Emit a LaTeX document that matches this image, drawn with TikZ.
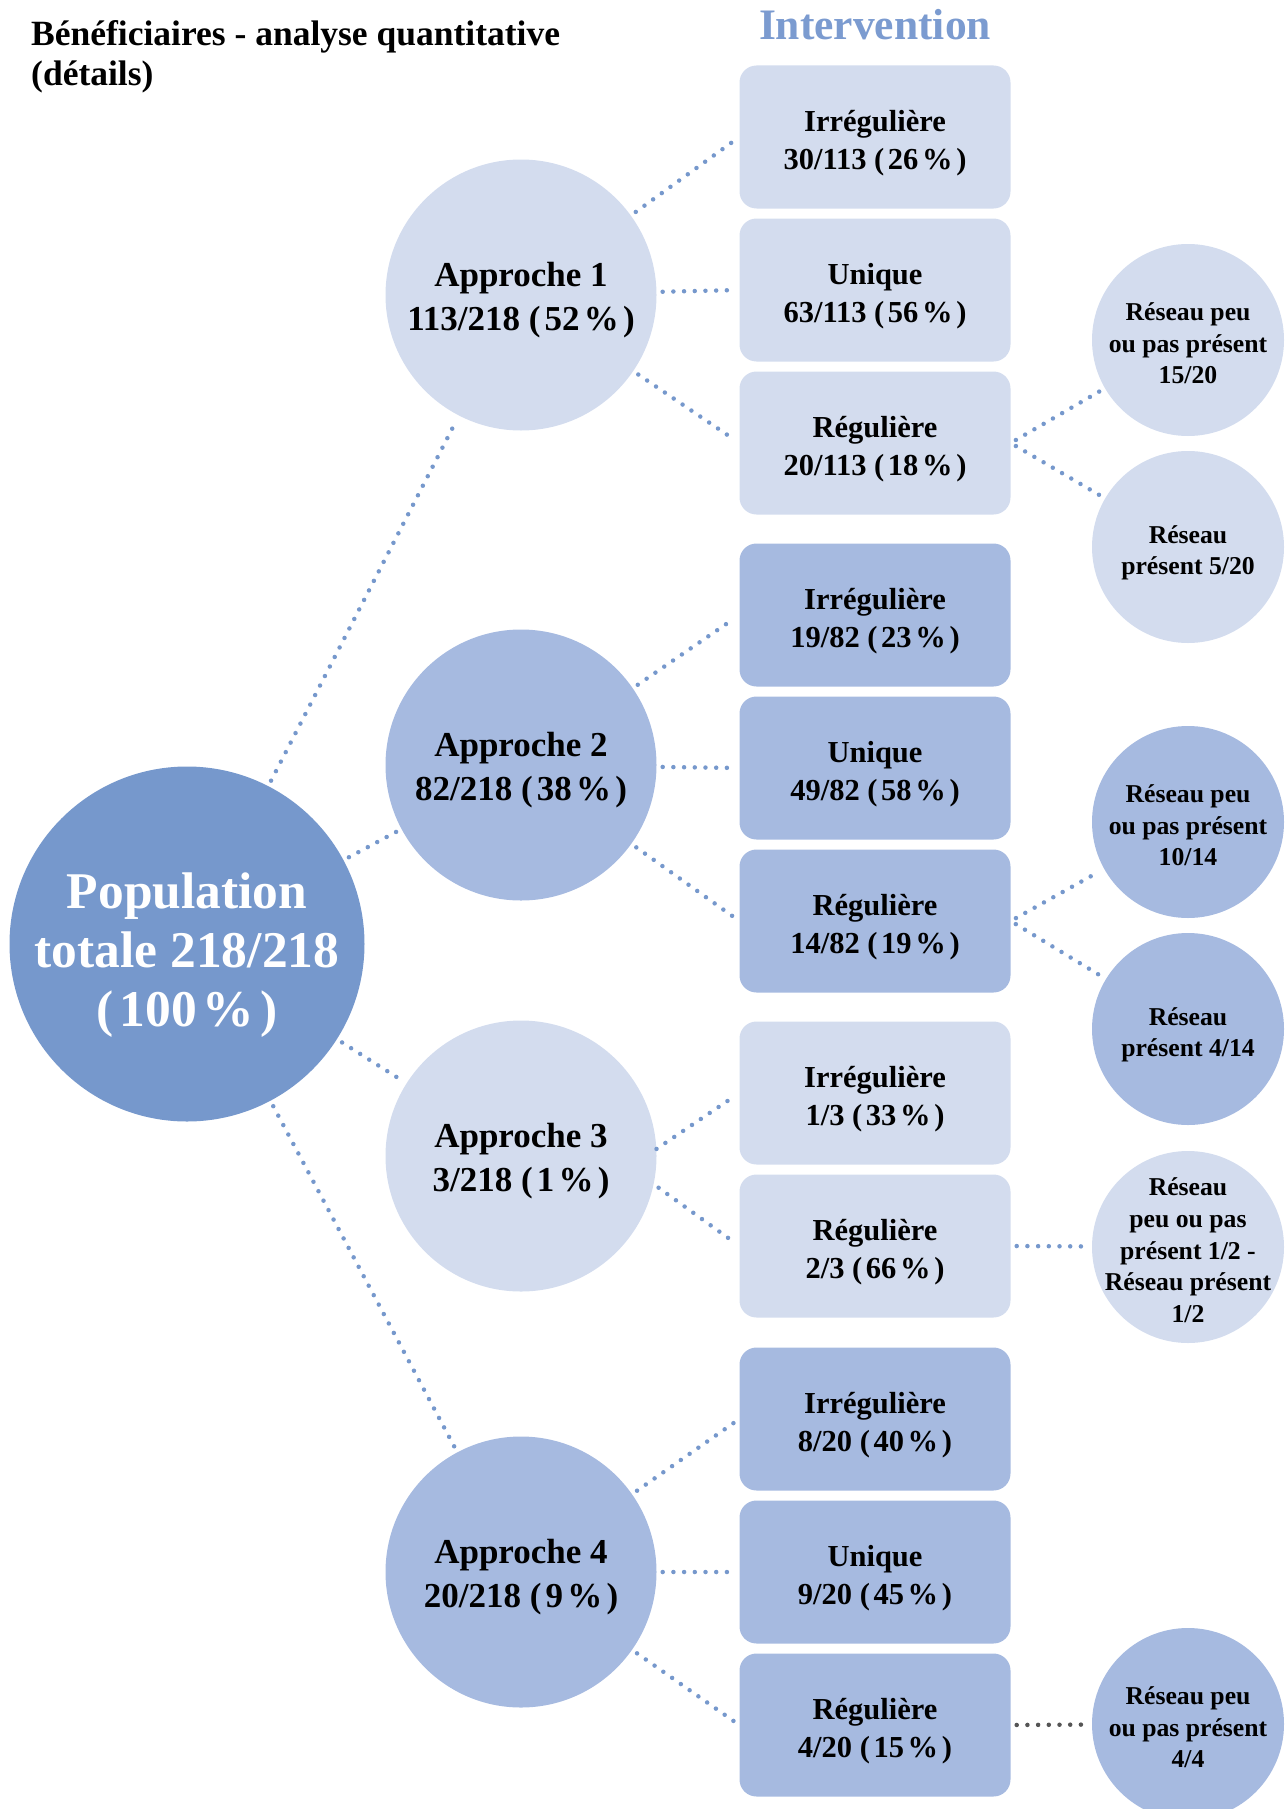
\documentclass[tikz,border=0pt]{standalone}
\usepackage{fontspec}
\setmainfont{Liberation Serif}
\usepackage{xcolor}
\definecolor{popBlue}{HTML}{7698CC}
\definecolor{lightBlue}{HTML}{D3DCEE}
\definecolor{midBlue}{HTML}{A6BAE0}
\definecolor{titleBlue}{HTML}{7B9BD0}
\definecolor{dotGray}{HTML}{555555}
\newcommand{\pct}[1]{(\kern0.12em#1\kern0.12em\%\kern0.12em)}
\newcommand{\lift}[1]{\rule{0pt}{#1}}
\tikzset{
  approach/.style={circle, inner sep=0pt, minimum size=271pt, align=center,
    text depth=0pt, font=\bfseries\fontsize{35}{44}\selectfont},
  interBox/.style={rectangle, rounded corners=17pt, minimum width=271pt,
    minimum height=143pt, align=center, text depth=0pt,
    font=\bfseries\fontsize{30.5}{38}\selectfont},
  network/.style={circle, inner sep=0pt, minimum size=192pt, align=center,
    text depth=0pt, font=\bfseries\fontsize{25.7}{31.7}\selectfont},
  dotLink/.style={draw=popBlue, line width=4.5pt, line cap=round,
    dash pattern=on 0pt off 10.7pt, shorten <=6pt, shorten >=6pt},
}

\begin{document}
\begin{tikzpicture}[x=1pt, y=-1pt]
                \useasboundingbox (0,0) rectangle (1285,1809);
                \def\apX{521}
                \def\boxX{875}
                \def\netX{1188}
                \def\apTop{27pt}
                \def\boxTop{26pt}
                \def\netTop{24pt}
                % titles
                \node[anchor=north west, inner sep=0pt, align=left,
                    font=\bfseries\fontsize{35.5}{40}\selectfont] (title) at (31,20)
                    {Bénéficiaires - analyse quantitative\\(détails)};
                \node[text=titleBlue, font=\bfseries\fontsize{43.5}{48}\selectfont]
                    (inter) at (\boxX,25) {Intervention};
                % population
                \node[circle, fill=popBlue, text=white, inner sep=0pt, minimum size=355pt,
                    align=center, text depth=0pt, font=\bfseries\fontsize{51.5}{59}\selectfont]
                    (pop) at (187,944) {\lift{46.5pt}Population\\totale 218/218\\\pct{100}};
                % approches
                \node[approach, fill=lightBlue] (a1) at (\apX,295)
                    {\lift\apTop Approche 1\\113/218 \pct{52}};
                \node[approach, fill=midBlue] (a2) at (\apX,765)
                    {\lift\apTop Approche 2\\82/218 \pct{38}};
                \node[approach, fill=lightBlue] (a3) at (\apX,1156)
                    {\lift\apTop Approche 3\\3/218 \pct{1}};
                \node[approach, fill=midBlue] (a4) at (\apX,1572)
                    {\lift\apTop Approche 4\\20/218 \pct{9}};
                % interventions
                \node[interBox, fill=lightBlue] (a1irr) at (\boxX,137)
                    {\lift\boxTop Irrégulière\\30/113 \pct{26}};
                \node[interBox, fill=lightBlue] (a1uni) at (\boxX,290)
                    {\lift\boxTop Unique\\63/113 \pct{56}};
                \node[interBox, fill=lightBlue] (a1reg) at (\boxX,443)
                    {\lift\boxTop Régulière\\20/113 \pct{18}};
                \node[interBox, fill=midBlue] (a2irr) at (\boxX,615)
                    {\lift\boxTop Irrégulière\\19/82 \pct{23}};
                \node[interBox, fill=midBlue] (a2uni) at (\boxX,768)
                    {\lift\boxTop Unique\\49/82 \pct{58}};
                \node[interBox, fill=midBlue] (a2reg) at (\boxX,921)
                    {\lift\boxTop Régulière\\14/82 \pct{19}};
                \node[interBox, fill=lightBlue] (a3irr) at (\boxX,1093)
                    {\lift\boxTop Irrégulière\\1/3 \pct{33}};
                \node[interBox, fill=lightBlue] (a3reg) at (\boxX,1246)
                    {\lift\boxTop Régulière\\2/3 \pct{66}};
                \node[interBox, fill=midBlue] (a4irr) at (\boxX,1419)
                    {\lift\boxTop Irrégulière\\8/20 \pct{40}};
                \node[interBox, fill=midBlue] (a4uni) at (\boxX,1572)
                    {\lift\boxTop Unique\\9/20 \pct{45}};
                \node[interBox, fill=midBlue] (a4reg) at (\boxX,1725)
                    {\lift\boxTop Régulière\\4/20 \pct{15}};
                % reseau
                \node[network, fill=lightBlue] (a1peu) at (\netX,340)
                    {\lift\netTop Réseau peu\\ou pas présent\\15/20};
                \node[network, fill=lightBlue] (a1pres) at (\netX,547)
                    {\lift\netTop Réseau\\présent 5/20};
                \node[network, fill=midBlue] (a2peu) at (\netX,822)
                    {\lift\netTop Réseau peu\\ou pas présent\\10/14};
                \node[network, fill=midBlue] (a2pres) at (\netX,1029)
                    {\lift\netTop Réseau\\présent 4/14};
                \node[network, fill=lightBlue, inner sep=-17pt] (a3net) at (\netX,1247)
                    {\lift\netTop Réseau\\peu ou pas\\présent 1/2 -\\Réseau présent\\1/2};
                \node[network, fill=midBlue] (a4peu) at (\netX,1724)
                    {\lift\netTop Réseau peu\\ou pas présent\\4/4};
                % liens
                \draw[dotLink] (pop) -- (a1);
                \draw[dotLink] (pop) -- (a2);
                \draw[dotLink] (pop) -- (a3);
                \draw[dotLink] (pop) -- (a4);
                \draw[dotLink] (a1) -- (a1irr.west);
                \draw[dotLink] (a1) -- (a1uni.west);
                \draw[dotLink] (a1) -- (a1reg.west);
                \draw[dotLink] (a2) -- (a2irr.west);
                \draw[dotLink] (a2) -- (a2uni.west);
                \draw[dotLink] (a2) -- (a2reg.west);
                \draw[dotLink, shorten <=0pt] (a3.3) -- (a3irr.west);
                \draw[dotLink] (a3.-12) -- (a3reg.west);
                \draw[dotLink] (a4) -- (a4irr.west);
                \draw[dotLink] (a4) -- (a4uni.west);
                \draw[dotLink] (a4) -- (a4reg.west);
                \draw[dotLink] (a1reg.east) -- (a1peu);
                \draw[dotLink] (a1reg.east) -- (a1pres);
                \draw[dotLink] (a2reg.east) -- (a2peu);
                \draw[dotLink] (a2reg.east) -- (a2pres);
                \draw[dotLink] (a3reg.east) -- (a3net);
                \draw[dotLink, draw=dotGray] (a4reg.east) -- (a4peu);
            \end{tikzpicture}
\end{document}
